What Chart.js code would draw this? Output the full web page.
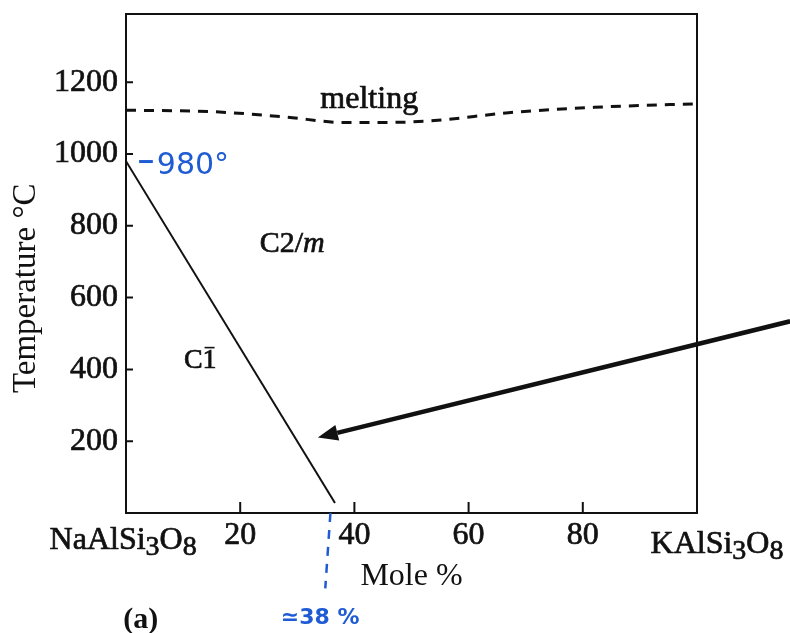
<!DOCTYPE html>
<html>
<head>
<meta charset="utf-8">
<title>NaAlSi3O8 – KAlSi3O8</title>
<script src="https://cdn.jsdelivr.net/npm/chart.js@4.4.1/dist/chart.umd.min.js"></script>
<style>
  html, body { margin: 0; padding: 0; background: #fff; }
  #wrap { width: 790px; height: 633px; }
</style>
</head>
<body>
<div id="wrap"><canvas id="phase-chart" width="790" height="633"></canvas></div>
<script>
(function () {
  "use strict";

  // melting curve (dashed): mole % KAlSi3O8 -> temperature
  const meltX = [0, 15, 28, 38, 46, 54, 67, 82, 100];
  const meltT = [1122, 1118, 1103, 1088, 1088, 1093, 1115, 1130, 1140];

  // C-1 / C2/m transition line
  const boundX = [0, 36.6];
  const boundT = [980, 28];

  const xTicks = [20, 40, 60, 80];
  const yTicks = [200, 400, 600, 800, 1000, 1200];

  const INK = "#111";
  const PEN = "#1f5bd3";
  const SERIF = '"Liberation Serif", "Times New Roman", serif';
  const HAND = '"DejaVu Sans", "Noto Sans", sans-serif';

  const pts = (xs, ys) => xs.map((v, i) => ({ x: v, y: ys[i] }));

  // draws text pieces side by side; "dy" lowers a piece, "bar" puts a line over it
  function drawRuns(ctx, runs, x, y, align, stroke) {
    const widths = runs.map((r) => { ctx.font = r.font; return ctx.measureText(r.t).width; });
    const total = widths.reduce((s, w) => s + w, 0);
    let cx = align === "center" ? x - total / 2 : align === "right" ? x - total : x;
    ctx.textAlign = "left";
    runs.forEach((r, i) => {
      ctx.font = r.font;
      ctx.fillText(r.t, cx, y + (r.dy || 0));
      if (stroke) {
        ctx.lineWidth = stroke;
        ctx.strokeText(r.t, cx, y + (r.dy || 0));
      }
      if (r.bar) {
        ctx.lineWidth = 1.6;
        ctx.beginPath();
        ctx.moveTo(cx + 2, y - r.bar);
        ctx.lineTo(cx + widths[i] - 2, y - r.bar);
        ctx.stroke();
      }
      cx += widths[i];
    });
  }

  const big = "32px " + SERIF;
  const sub = "28px " + SERIF;
  const formula = (head) => [
    { t: head, font: big },
    { t: "3", font: sub, dy: 6 },
    { t: "O", font: big },
    { t: "8", font: sub, dy: 6 },
  ];

  const overlay = {
    id: "overlay",
    afterDatasetsDraw(chart) {
      const { ctx, chartArea: a, scales: { x, y } } = chart;
      const px = (v) => x.getPixelForValue(v);
      const py = (v) => y.getPixelForValue(v);
      ctx.save();

      // top / right frame and inward ticks
      ctx.strokeStyle = INK;
      ctx.lineWidth = 2;
      ctx.beginPath();
      ctx.moveTo(a.left, a.top);
      ctx.lineTo(a.right, a.top);
      ctx.lineTo(a.right, a.bottom);
      yTicks.forEach((v) => { ctx.moveTo(a.left, py(v)); ctx.lineTo(a.left + 7, py(v)); });
      xTicks.forEach((v) => { ctx.moveTo(px(v), a.bottom); ctx.lineTo(px(v), a.bottom - 11); });
      ctx.stroke();

      // printed labels
      ctx.fillStyle = INK;
      ctx.textBaseline = "alphabetic";
      drawRuns(ctx, [{ t: "melting", font: big }], px(42.6), py(1127), "center", 0.7);
      drawRuns(ctx, [{ t: "C2/", font: "30px " + SERIF }, { t: "m", font: "italic 30px " + SERIF }], px(29.1), py(727), "center", 0.7);
      drawRuns(ctx, [{ t: "C", font: "28px " + SERIF }, { t: "1", font: "28px " + SERIF, bar: 20 }], px(13.0), py(405), "center", 0.7);
      drawRuns(ctx, formula("NaAlSi"), px(-0.5), py(-100), "center", 0.7);
      drawRuns(ctx, formula("KAlSi"), px(103.5), py(-112), "center", 0.7);
      drawRuns(ctx, [{ t: "(a)", font: "bold 30px " + SERIF }], px(2.6), py(-320), "center");

      // thick arrow pointing at the transition line
      const x0 = px(116.3), y0 = py(534), x1 = px(33.6), y1 = py(210);
      const ang = Math.atan2(y1 - y0, x1 - x0);
      const head = 20, half = 8;
      ctx.lineWidth = 4.5;
      ctx.beginPath();
      ctx.moveTo(x0, y0);
      ctx.lineTo(x1 - head * Math.cos(ang), y1 - head * Math.sin(ang));
      ctx.stroke();
      ctx.beginPath();
      ctx.moveTo(x1, y1);
      ctx.lineTo(x1 - head * Math.cos(ang) - half * Math.sin(ang), y1 - head * Math.sin(ang) + half * Math.cos(ang));
      ctx.lineTo(x1 - head * Math.cos(ang) + half * Math.sin(ang), y1 - head * Math.sin(ang) - half * Math.cos(ang));
      ctx.closePath();
      ctx.fill();

      // handwritten blue notes
      ctx.strokeStyle = PEN;
      ctx.fillStyle = PEN;
      ctx.lineWidth = 3;
      ctx.beginPath();
      ctx.moveTo(px(2.3), py(979));
      ctx.lineTo(px(4.7), py(979));
      ctx.stroke();
      drawRuns(ctx, [{ t: "980°", font: "30px " + HAND }], px(5.4), py(945), "left");

      ctx.lineWidth = 2.5;
      ctx.setLineDash([9, 8]);
      ctx.beginPath();
      ctx.moveTo(px(35.8), py(0));
      ctx.lineTo(px(34.9), py(-210));
      ctx.stroke();
      ctx.setLineDash([]);
      drawRuns(ctx, [{ t: "≃38 %", font: "bold 22px " + HAND }], px(34.0), py(-308), "center");

      ctx.restore();
    },
  };

  const tickFont = { family: SERIF, size: 32 };

  const canvas = document.getElementById("phase-chart");
  new Chart(canvas, {
    type: "scatter",
    data: {
      datasets: [
        {
          label: "melting",
          data: pts(meltX, meltT),
          showLine: true,
          borderColor: INK,
          borderWidth: 3,
          borderDash: [10, 8],
          cubicInterpolationMode: "monotone",
          pointRadius: 0,
        },
        {
          label: "C-1 / C2/m",
          data: pts(boundX, boundT),
          showLine: true,
          borderColor: INK,
          borderWidth: 2,
          pointRadius: 0,
        },
      ],
    },
    options: {
      responsive: false,
      animation: false,
      layout: { padding: { left: 0, top: 14, right: 93, bottom: 0 } },
      plugins: { legend: { display: false }, tooltip: { enabled: false } },
      scales: {
        x: {
          type: "linear",
          min: 0,
          max: 100,
          afterBuildTicks(scale) { scale.ticks = xTicks.map((v) => ({ value: v })); },
          afterFit(scale) {
            scale.height = 120;
            scale.paddingLeft = scale.paddingRight = scale.paddingTop = scale.paddingBottom = 0;
          },
          grid: { display: false, drawTicks: false },
          border: { display: true, color: INK, width: 2 },
          ticks: {
            color: INK,
            padding: 3,
            maxRotation: 0,
            font: tickFont,
            textStrokeColor: INK,
            textStrokeWidth: 0.7,
            callback: (v) => String(v),
          },
          title: {
            display: true,
            text: "Mole %",
            color: INK,
            font: { family: SERIF, size: 32 },
            padding: { top: 0, bottom: 37 },
          },
        },
        y: {
          type: "linear",
          min: 0,
          max: 1390,
          afterBuildTicks(scale) { scale.ticks = yTicks.map((v) => ({ value: v })); },
          afterFit(scale) {
            scale.width = 126;
            scale.paddingLeft = scale.paddingRight = scale.paddingTop = scale.paddingBottom = 0;
          },
          grid: { display: false, drawTicks: false },
          border: { display: true, color: INK, width: 2 },
          ticks: {
            color: INK,
            padding: 8,
            font: tickFont,
            textStrokeColor: INK,
            textStrokeWidth: 0.7,
            callback: (v) => String(v),
          },
          title: {
            display: true,
            text: "Temperature °C      ",
            color: INK,
            font: { family: SERIF, size: 33 },
            padding: { top: 7, bottom: 0 },
          },
        },
      },
    },
    plugins: [overlay],
  });
})();
</script>
</body>
</html>
